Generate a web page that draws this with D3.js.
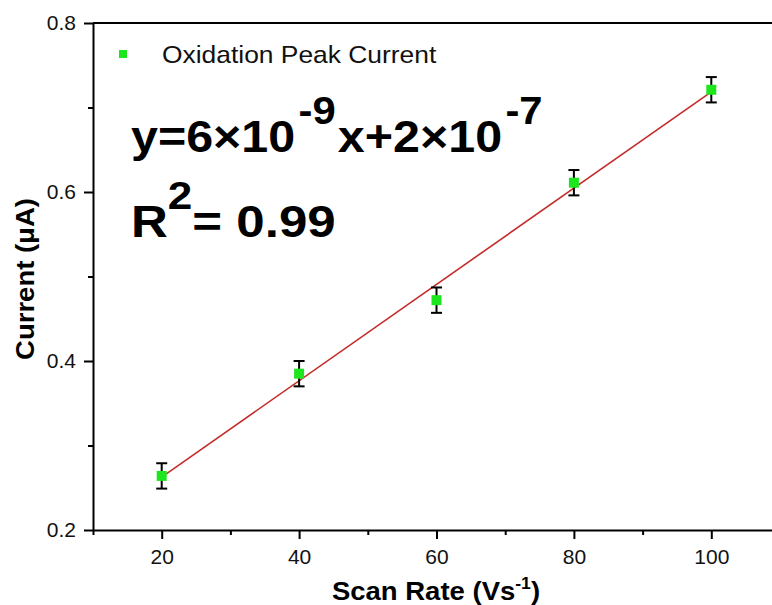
<!DOCTYPE html>
<html>
<head>
<meta charset="utf-8">
<script src="https://cdn.jsdelivr.net/npm/d3@7"></script>
<style>
  body { margin: 0; background: #fff; }
  svg { display: block; font-family: "Liberation Sans", Arial, sans-serif; }
</style>
</head>
<body>
<svg id="chart" width="772" height="605"></svg>
<script>
// data
const scanRates = [20, 40, 60, 80, 100];
const peakCurrents = [0.264, 0.385, 0.472, 0.611, 0.721];
const errors = [0.015, 0.015, 0.015, 0.015, 0.015];
const xTicks = [20, 40, 60, 80, 100];
const xMinor = [10, 30, 50, 70, 90, 110];
const yTicks = [0.2, 0.4, 0.6, 0.8];
const yMinor = [0.3, 0.5, 0.7];

const svg = d3.select('#chart');

const x = d3.scaleLinear().domain([10, 110]).range([93, 780]);
const y = d3.scaleLinear().domain([0.2, 0.8]).range([530, 23]);

// the original text is a bit wider than it is tall
function stretch(sel, sx) {
  const x0 = +sel.attr('x'), y0 = +sel.attr('y');
  sel.attr('x', 0).attr('y', 0)
    .attr('transform', `translate(${x0},${y0}) scale(${sx},1)`);
  return sel;
}

// minor ticks first, so the main axes sit on top
svg.append('g')
  .attr('transform', 'translate(0,530)')
  .call(d3.axisBottom(x).tickValues(xMinor).tickSize(5).tickFormat(''))
  .call(g => g.select('.domain').remove())
  .selectAll('line').attr('stroke-width', 2);

svg.append('g')
  .attr('transform', 'translate(93,0)')
  .call(d3.axisLeft(y).tickValues(yMinor).tickSize(5).tickFormat(''))
  .call(g => g.select('.domain').remove())
  .selectAll('line').attr('stroke-width', 2);

const xAxis = svg.append('g')
  .attr('transform', 'translate(0,530)')
  .call(d3.axisBottom(x).tickValues(xTicks).tickSize(9).tickSizeOuter(0).tickPadding(10));

const yAxis = svg.append('g')
  .attr('transform', 'translate(93,0)')
  .call(d3.axisLeft(y).tickValues(yTicks).tickSize(9).tickSizeOuter(0).tickPadding(8).tickFormat(d3.format('.1f')));

[xAxis, yAxis].forEach(a => {
  a.select('.domain').attr('stroke-width', 2);
  a.selectAll('line').attr('stroke-width', 2);
  a.selectAll('text')
    .style('font-size', '21px')
    .style('font-family', '"Liberation Sans", Arial, sans-serif')
    .attr('fill', '#111');
});

// top frame line
svg.append('line')
  .attr('x1', x(10)).attr('x2', x(110))
  .attr('y1', y(0.8)).attr('y2', y(0.8))
  .attr('stroke', '#000').attr('stroke-width', 2);

// least squares fit
const mx = d3.mean(scanRates), my = d3.mean(peakCurrents);
const slope = d3.sum(scanRates, (d, i) => (d - mx) * (peakCurrents[i] - my)) /
  d3.sum(scanRates, d => (d - mx) * (d - mx));
const icpt = my - slope * mx;

svg.append('path')
  .datum([20, 100])
  .attr('d', d3.line().x(d => x(d)).y(d => y(icpt + slope * d)))
  .attr('fill', 'none')
  .attr('stroke', '#c42b2b')
  .attr('stroke-width', 1.6);

// error bars
const eb = svg.append('g').attr('stroke', '#000').attr('stroke-width', 2);
scanRates.forEach((s, i) => {
  const cx = x(s), top = y(peakCurrents[i] + errors[i]), bot = y(peakCurrents[i] - errors[i]);
  eb.append('line').attr('x1', cx).attr('x2', cx).attr('y1', top).attr('y2', bot);
  eb.append('line').attr('x1', cx - 5.5).attr('x2', cx + 5.5).attr('y1', top).attr('y2', top);
  eb.append('line').attr('x1', cx - 5.5).attr('x2', cx + 5.5).attr('y1', bot).attr('y2', bot);
});

// points
svg.append('g').selectAll('rect')
  .data(scanRates)
  .join('rect')
  .attr('x', d => x(d) - 5)
  .attr('y', (d, i) => y(peakCurrents[i]) - 5)
  .attr('width', 10).attr('height', 10)
  .attr('fill', '#1ee61e');

// legend
svg.append('rect').attr('x', 119).attr('y', 50).attr('width', 8).attr('height', 8).attr('fill', '#1ee61e');
stretch(svg.append('text').attr('x', 162).attr('y', 63)
  .attr('font-size', 24).attr('fill', '#111').text('Oxidation Peak Current'), 1.1);

// equation
const eq = stretch(svg.append('text').attr('x', 131).attr('y', 152)
  .attr('font-size', 44).attr('font-weight', 'bold').attr('fill', '#000'), 1.1);
eq.append('tspan').text('y=6×10');
eq.append('tspan').attr('dx', 3).attr('dy', -28).attr('font-size', 38).text('-9');
eq.append('tspan').attr('dx', 2).attr('dy', 28).text('x+2×10');
eq.append('tspan').attr('dx', 3).attr('dy', -28).attr('font-size', 38).text('-7');

const r2 = stretch(svg.append('text').attr('x', 131).attr('y', 237)
  .attr('font-size', 44).attr('font-weight', 'bold').attr('fill', '#000'), 1.16);
r2.append('tspan').text('R');
r2.append('tspan').attr('dy', -28).attr('font-size', 38).text('2');
r2.append('tspan').attr('dy', 28).text('= 0.99');

// axis titles
const xt = stretch(svg.append('text').attr('x', 436).attr('y', 600)
  .attr('text-anchor', 'middle').attr('font-size', 25).attr('font-weight', 'bold'), 1.1);
xt.append('tspan').text('Scan Rate (Vs');
xt.append('tspan').attr('dy', -11).attr('font-size', 16).text('-1');
xt.append('tspan').attr('dy', 11).text(')');

svg.append('text')
  .attr('transform', 'translate(34,279) rotate(-90) scale(1.1,1)')
  .attr('text-anchor', 'middle').attr('font-size', 25).attr('font-weight', 'bold')
  .text('Current (μA)');
</script>
</body>
</html>
